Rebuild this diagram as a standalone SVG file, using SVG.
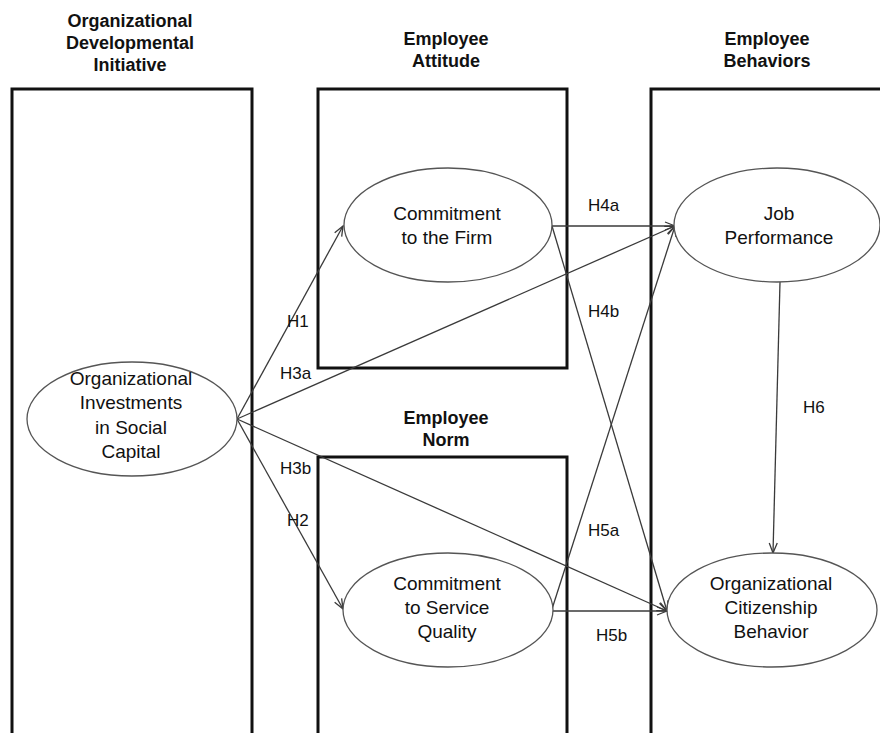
<svg xmlns="http://www.w3.org/2000/svg" width="880" height="733" viewBox="0 0 880 733">
<defs>
<style>
.box{fill:none;stroke:#111;stroke-width:3}
.hdr{font-family:"Liberation Sans",Arial,sans-serif;font-weight:bold;font-size:18px;fill:#111;text-anchor:middle}
.node ellipse{fill:#fff;stroke:#555;stroke-width:1.3}
.node text{font-family:"Liberation Sans",Arial,sans-serif;font-size:19px;fill:#111;text-anchor:middle}
.conn line{stroke:#3a3a3a;stroke-width:1.3;marker-end:url(#arr)}
.lbl{font-family:"Liberation Sans",Arial,sans-serif;font-size:17px;fill:#111}
</style>
<marker id="arr" markerWidth="12" markerHeight="10" refX="11" refY="5" orient="auto" markerUnits="userSpaceOnUse">
<path d="M1,1 L11,5 L1,9" fill="none" stroke="#3a3a3a" stroke-width="1.3"/>
</marker>
</defs>
<rect width="880" height="733" fill="#fff"/>
<g id="boxes">
<path class="box" d="M12,740 V89 H252 V740"/>
<rect class="box" x="318" y="89" width="249" height="279"/>
<path class="box" d="M318,740 V457 H567 V740"/>
<path class="box" d="M651,740 V89 H900"/>
</g>
<g id="headers">
<text class="hdr" x="130" y="27">Organizational</text>
<text class="hdr" x="130" y="49">Developmental</text>
<text class="hdr" x="130" y="71">Initiative</text>
<text class="hdr" x="446" y="45">Employee</text>
<text class="hdr" x="446" y="67">Attitude</text>
<text class="hdr" x="446" y="424">Employee</text>
<text class="hdr" x="446" y="446">Norm</text>
<text class="hdr" x="767" y="45">Employee</text>
<text class="hdr" x="767" y="67">Behaviors</text>
</g>
<g id="connectors" class="conn">
<line x1="237" y1="419" x2="343" y2="226"/>
<line x1="237" y1="419" x2="343" y2="609"/>
<line x1="237" y1="419" x2="675" y2="226"/>
<line x1="237" y1="419" x2="667" y2="611"/>
<line x1="552" y1="226" x2="675" y2="226"/>
<line x1="552" y1="226" x2="667" y2="611"/>
<line x1="552" y1="609" x2="675" y2="226"/>
<line x1="552" y1="611" x2="667" y2="611"/>
<line x1="780" y1="282" x2="773" y2="553"/>
</g>
<g id="labels">
<text class="lbl" x="287" y="327">H1</text>
<text class="lbl" x="280" y="379">H3a</text>
<text class="lbl" x="280" y="474">H3b</text>
<text class="lbl" x="287" y="526">H2</text>
<text class="lbl" x="588" y="211">H4a</text>
<text class="lbl" x="588" y="317">H4b</text>
<text class="lbl" x="588" y="536">H5a</text>
<text class="lbl" x="596" y="641">H5b</text>
<text class="lbl" x="803" y="413">H6</text>
</g>
<g id="node-oisc" class="node">
<ellipse cx="132" cy="419" rx="105" ry="57"/>
<text x="131" y="385">Organizational</text>
<text x="131" y="409">Investments</text>
<text x="131" y="434">in Social</text>
<text x="131" y="458">Capital</text>
</g>
<g id="node-firm" class="node">
<ellipse cx="448" cy="225" rx="104" ry="57"/>
<text x="447" y="220">Commitment</text>
<text x="447" y="244">to the Firm</text>
</g>
<g id="node-service" class="node">
<ellipse cx="448" cy="610" rx="105" ry="57"/>
<text x="447" y="590">Commitment</text>
<text x="447" y="614">to Service</text>
<text x="447" y="638">Quality</text>
</g>
<g id="node-jp" class="node">
<ellipse cx="777" cy="225" rx="103" ry="57"/>
<text x="779" y="220">Job</text>
<text x="779" y="244">Performance</text>
</g>
<g id="node-ocb" class="node">
<ellipse cx="772" cy="610" rx="105" ry="57"/>
<text x="771" y="590">Organizational</text>
<text x="771" y="614">Citizenship</text>
<text x="771" y="638">Behavior</text>
</g>
</svg>
